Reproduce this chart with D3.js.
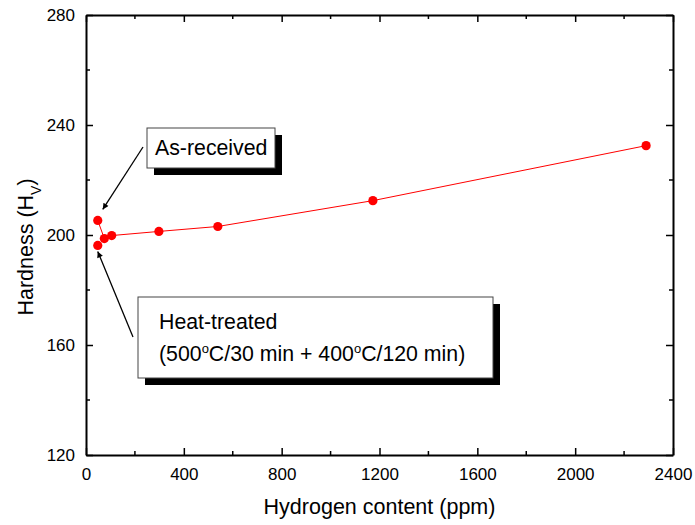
<!DOCTYPE html>
<html>
<head>
<meta charset="utf-8">
<script src="https://cdn.jsdelivr.net/npm/d3@7"></script>
<style>
  html, body { margin: 0; padding: 0; background: #fff; }
  svg { display: block; font-family: "Liberation Sans", Arial, sans-serif; }
</style>
</head>
<body>
<svg id="chart" width="695" height="525"></svg>
<script>
// ---- data ----
const labels = ["As-received", "Heat-treated", "", "", "", "", "", ""];
const hydrogen = [48, 48, 75, 105, 298, 539, 1173, 2290];       // ppm
const hardness = [205.3, 196.2, 198.7, 199.8, 201.3, 203.1, 212.5, 232.5]; // Hv
const lineOrder = [0, 2, 3, 4, 5, 6, 7]; // indices joined by the red line
const xTicks = [0, 400, 800, 1200, 1600, 2000, 2400];
const yTicks = [120, 160, 200, 240, 280];

const svg = d3.select("#chart");
const x = d3.scaleLinear().domain([0, 2400]).range([86, 673]);
const y = d3.scaleLinear().domain([120, 280]).range([455, 15]);

const [x0, x1] = x.range();
const [y0, y1] = y.range();

// ---- axes (inner ticks, mirrored) ----
const majorLen = 7, minorLen = 4;
const xMinor = d3.range(0, 2401, 200).filter(v => !xTicks.includes(v));
const yMinor = d3.range(120, 281, 20).filter(v => !yTicks.includes(v));

const axBottom = d3.axisBottom(x).tickValues(xTicks).tickSize(-majorLen).tickSizeOuter(0).tickPadding(13).tickFormat(d3.format("d"));
const axTop = d3.axisTop(x).tickValues(xTicks).tickSize(-majorLen).tickSizeOuter(0).tickFormat("");
const axLeft = d3.axisLeft(y).tickValues(yTicks).tickSize(-majorLen).tickSizeOuter(0).tickPadding(11).tickFormat(d3.format("d"));
const axRight = d3.axisRight(y).tickValues(yTicks).tickSize(-majorLen).tickSizeOuter(0).tickFormat("");

function styleAxis(g) {
  g.select(".domain").attr("stroke", "#000").attr("stroke-width", 2);
  g.selectAll(".tick line").attr("stroke", "#000").attr("stroke-width", 1.5);
  g.selectAll(".tick text").attr("fill", "#000").style("font-size", "17px").style("font-family", "Liberation Sans, Arial, sans-serif");
}
svg.append("g").attr("transform", `translate(0,${y0})`).call(axBottom).call(styleAxis)
  .call(g => g.append("g").selectAll("line").data(xMinor).join("line")
    .attr("x1", d => x(d)).attr("x2", d => x(d)).attr("y1", 0).attr("y2", -minorLen)
    .attr("stroke", "#000").attr("stroke-width", 1.5));
svg.append("g").attr("transform", `translate(0,${y1})`).call(axTop).call(styleAxis)
  .call(g => g.append("g").selectAll("line").data(xMinor).join("line")
    .attr("x1", d => x(d)).attr("x2", d => x(d)).attr("y1", 0).attr("y2", minorLen)
    .attr("stroke", "#000").attr("stroke-width", 1.5));
svg.append("g").attr("transform", `translate(${x0},0)`).call(axLeft).call(styleAxis)
  .call(g => g.append("g").selectAll("line").data(yMinor).join("line")
    .attr("y1", d => y(d)).attr("y2", d => y(d)).attr("x1", 0).attr("x2", minorLen)
    .attr("stroke", "#000").attr("stroke-width", 1.5));
svg.append("g").attr("transform", `translate(${x1},0)`).call(axRight).call(styleAxis)
  .call(g => g.append("g").selectAll("line").data(yMinor).join("line")
    .attr("y1", d => y(d)).attr("y2", d => y(d)).attr("x1", 0).attr("x2", -minorLen)
    .attr("stroke", "#000").attr("stroke-width", 1.5));

// ---- axis titles ----
svg.append("text")
  .attr("x", (x0 + x1) / 2).attr("y", 514)
  .attr("text-anchor", "middle").style("font-size", "21.5px")
  .text("Hydrogen content (ppm)");

const yt = svg.append("text")
  .attr("transform", `translate(33,${(y0 + y1) / 2 + 12}) rotate(-90)`)
  .attr("text-anchor", "middle").style("font-size", "21.5px");
yt.append("tspan").text("Hardness (H");
yt.append("tspan").attr("baseline-shift", "sub").style("font-size", "14px").text("V");
yt.append("tspan").text(")");

// ---- data line & points ----
const line = d3.line().x(i => x(hydrogen[i])).y(i => y(hardness[i]));
svg.append("path").attr("d", line(lineOrder))
  .attr("fill", "none").attr("stroke", "#ff0000").attr("stroke-width", 1);
svg.append("g").selectAll("circle").data(hydrogen.map((h, i) => i)).join("circle")
  .attr("cx", i => x(hydrogen[i])).attr("cy", i => y(hardness[i])).attr("r", 4.6)
  .attr("fill", "#ff0000");

// ---- annotations ----
const defs = svg.append("defs");
defs.append("marker").attr("id", "ah").attr("viewBox", "0 0 10 10")
  .attr("refX", 10).attr("refY", 5).attr("markerWidth", 10).attr("markerHeight", 6)
  .attr("markerUnits", "userSpaceOnUse").attr("orient", "auto")
  .append("path").attr("d", "M0,0 L10,5 L0,10 Z").attr("fill", "#000");

function box(bx, by, bw, bh) {
  svg.append("rect").attr("x", bx + 7).attr("y", by + 7).attr("width", bw).attr("height", bh).attr("fill", "#000");
  svg.append("rect").attr("x", bx).attr("y", by).attr("width", bw).attr("height", bh)
    .attr("fill", "#fff").attr("stroke", "#444").attr("stroke-width", 1);
}

// As-received
const ar = [x(hydrogen[0]), y(hardness[0])];
svg.append("line").attr("x1", 143).attr("y1", 147).attr("x2", ar[0] + 5).attr("y2", ar[1] - 11)
  .attr("stroke", "#000").attr("stroke-width", 1.3).attr("marker-end", "url(#ah)");
box(147, 128, 128, 40);
svg.append("text").attr("x", 155).attr("y", 155).style("font-size", "21.3px").text(labels[0]);

// Heat-treated
const ht = [x(hydrogen[1]), y(hardness[1])];
svg.append("line").attr("x1", 133).attr("y1", 337).attr("x2", ht[0]).attr("y2", ht[1] + 6)
  .attr("stroke", "#000").attr("stroke-width", 1.3).attr("marker-end", "url(#ah)");
box(138, 297, 355, 81);
svg.append("text").attr("x", 159).attr("y", 329).style("font-size", "21.3px").text(labels[1]);
const t2 = svg.append("text").attr("x", 159).attr("y", 361).style("font-size", "21.3px");
t2.append("tspan").text("(500");
t2.append("tspan").attr("baseline-shift", "8px").style("font-size", "13px").text("o");
t2.append("tspan").text("C/30 min + 400");
t2.append("tspan").attr("baseline-shift", "8px").style("font-size", "13px").text("o");
t2.append("tspan").text("C/120 min)");
</script>
</body>
</html>
